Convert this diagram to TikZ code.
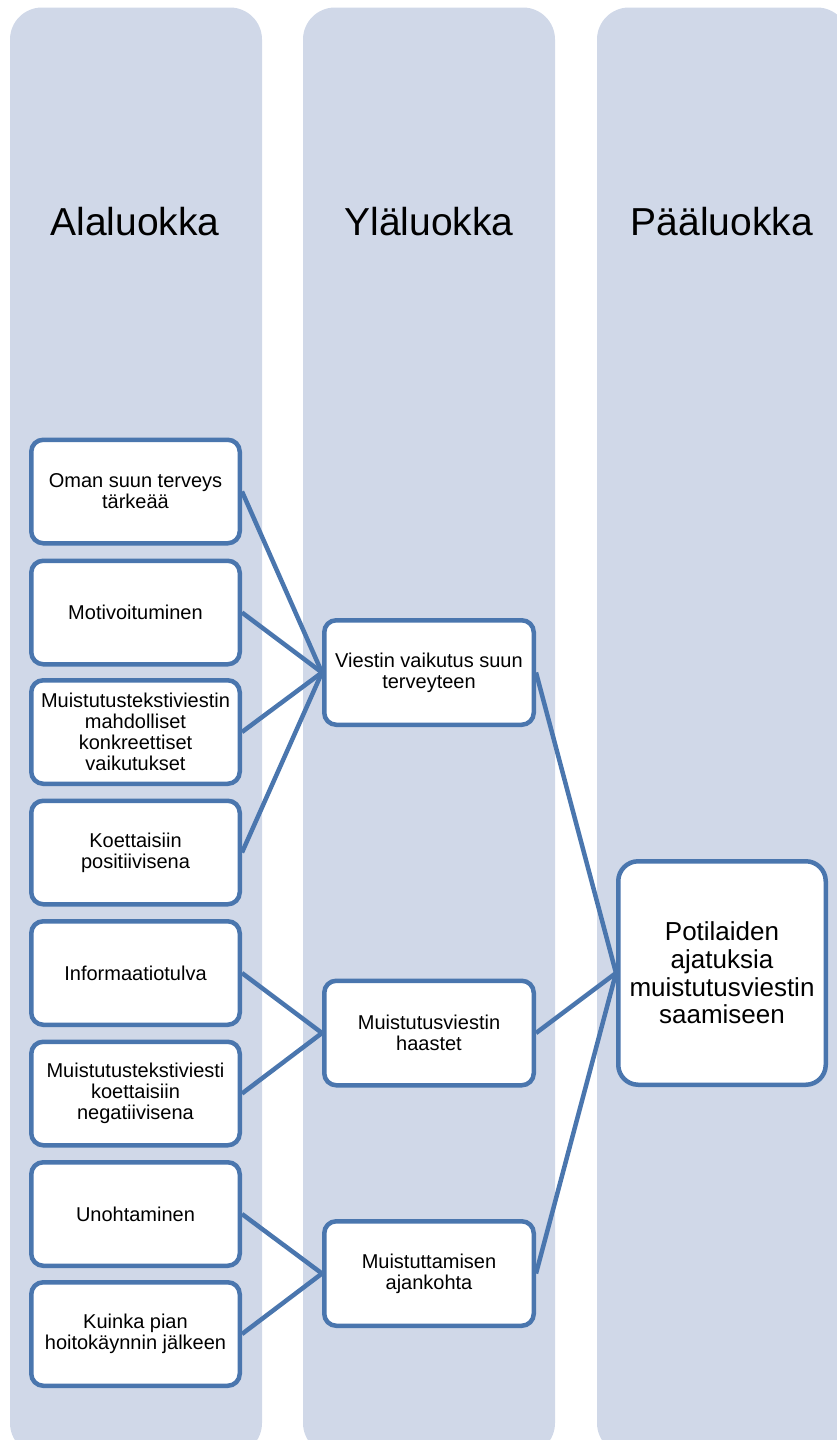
\documentclass[tikz,border=0pt]{standalone}
\usepackage{fontspec}
\setmainfont{Liberation Sans}
\definecolor{colfill}{HTML}{D0D8E8}
\definecolor{edgeblue}{HTML}{4A76AE}
\begin{document}
\begin{tikzpicture}[x=1pt,y=-1pt,
  colbox/.style={fill=colfill, draw=none, rounded corners=32pt},
  header/.style={font=\fontsize{39}{47}\selectfont, anchor=base, inner sep=0pt},
  leaf/.style={draw=edgeblue, line width=4.5pt, fill=white, rounded corners=12pt,
    minimum width=208.5pt, minimum height=103.5pt, align=center,
    font=\fontsize{20}{21}\selectfont, inner sep=2pt},
  midbox/.style={leaf, minimum width=209.5pt, minimum height=104.5pt},
  rootbox/.style={leaf, rounded corners=20pt, minimum width=207.5pt, minimum height=223.5pt,
    font=\fontsize{26}{27.7}\selectfont},
  link/.style={draw=edgeblue, line width=4.5pt}
]
\useasboundingbox (0,0) rectangle (837,1440);
\clip (0,0) rectangle (837,1440);

% columns
\path[colbox] (10,7.5) rectangle (262,1455);
\path[colbox] (303,7.5) rectangle (555,1455);
\path[colbox] (597,7.5) rectangle (849,1455);

% headers
\node[header] (h1) at (135,235) {Alaluokka};
\node[header] (h2) at (429,235) {Yläluokka};
\node[header] (h3) at (722,235) {Pääluokka};

% left column
\node[leaf] (a1) at (135.5,491.5) {Oman suun terveys\\tärkeää};
\node[leaf] (a2) at (135.5,612.5) {Motivoituminen};
\node[leaf] (a3) at (135.5,732) {Muistutustekstiviestin\\mahdolliset\\konkreettiset\\vaikutukset};
\node[leaf] (a4) at (135.5,852.5) {Koettaisiin\\positiivisena};
\node[leaf] (a5) at (135.5,973) {Informaatiotulva};
\node[leaf] (a6) at (135.5,1093.5) {Muistutustekstiviesti\\koettaisiin\\negatiivisena};
\node[leaf] (a7) at (135.5,1214) {Unohtaminen};
\node[leaf] (a8) at (135.5,1334) {Kuinka pian\\hoitokäynnin jälkeen};

% middle column
\node[midbox] (b1) at (429,672.5) {Viestin vaikutus suun\\terveyteen};
\node[midbox] (b2) at (429,1033) {Muistutusviestin\\haastet};
\node[midbox] (b3) at (429,1273.5) {Muistuttamisen\\ajankohta};

% right column
\node[rootbox] (c1) at (722,973) {Potilaiden\\ajatuksia\\muistutusviestin\\saamiseen};

% connectors
\draw[link] (a1.east) -- (b1.west);
\draw[link] (a2.east) -- (b1.west);
\draw[link] (a3.east) -- (b1.west);
\draw[link] (a4.east) -- (b1.west);
\draw[link] (a5.east) -- (b2.west);
\draw[link] (a6.east) -- (b2.west);
\draw[link] (a7.east) -- (b3.west);
\draw[link] (a8.east) -- (b3.west);
\draw[link] (b1.east) -- (c1.west);
\draw[link] (b2.east) -- (c1.west);
\draw[link] (b3.east) -- (c1.west);
\end{tikzpicture}
\end{document}
